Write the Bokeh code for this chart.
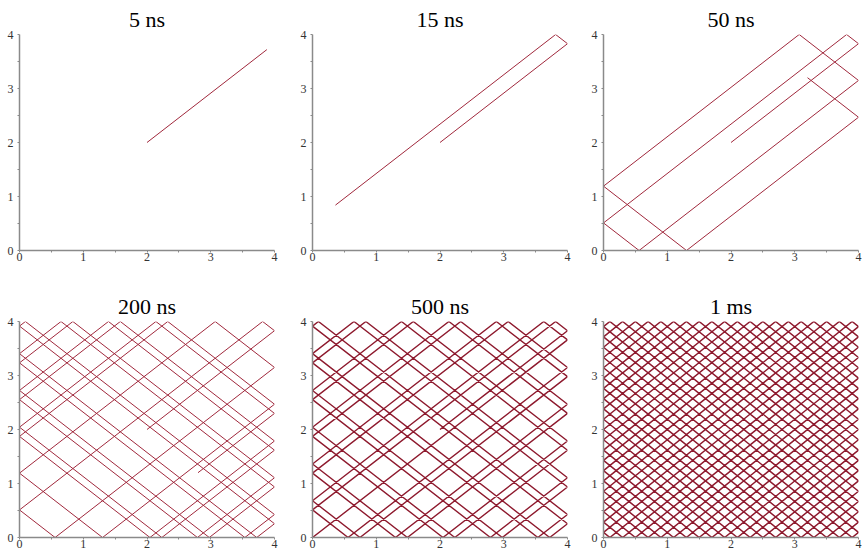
import numpy as np
from bokeh.plotting import figure
from bokeh.layouts import column, row
from bokeh.models import Range1d, FixedTicker
from bokeh.embed import file_html
from bokeh.resources import INLINE

# ---- data ----
BOX = 4.0                      # square box side
START = (2.0, 2.0)             # starting point of the particle
VELOCITY = (0.376, 0.344)      # units per ns (read from bounce points)
DURATIONS_NS = [5, 15, 50, 200, 500]
TITLES = ["5 ns", "15 ns", "50 ns", "200 ns", "500 ns", "1 ms"]
# 1 ms panel: regular lattice, ~21 side bounces and ~20 top bounces per wall
LATTICE_DIR = (21, 20)
LATTICE_PERIOD = 8.0
TICKS = [0, 1, 2, 3, 4]
MINOR_TICKS = [0.5, 1.5, 2.5, 3.5]

LINE_COLORS = ["#A0283C", "#A0283C", "#A0283C", "#A0283C", "#8E1A2E", "#8E1A2E"]
LINE_WIDTHS = [1.0, 1.0, 1.0, 1.0, 1.4, 1.5]
FONT = "serif"


def billiard(x0, y0, vx, vy, T, L=BOX):
    xs, ys = [x0], [y0]
    x, y, t = x0, y0, 0.0
    while t < T - 1e-12:
        tx = ((L - x) / vx if vx > 0 else -x / vx) if vx != 0 else np.inf
        ty = ((L - y) / vy if vy > 0 else -y / vy) if vy != 0 else np.inf
        rem = T - t
        dt = min(tx, ty, rem)
        x += vx * dt
        y += vy * dt
        t += dt
        if dt == tx:
            vx = -vx
            x = L if x > L / 2 else 0.0
        if dt == ty:
            vy = -vy
            y = L if y > L / 2 else 0.0
        xs.append(x)
        ys.append(y)
    return xs, ys


paths = [billiard(START[0], START[1], VELOCITY[0], VELOCITY[1], T) for T in DURATIONS_NS]
paths.append(billiard(START[0], START[1], LATTICE_DIR[0], LATTICE_DIR[1], LATTICE_PERIOD))

FRAME_W = 255
FRAME_H = 216
left_border = 19
right_borders = [19, 17, 4]
top_border = 34
bottom_borders = [37, 16]

figs = []
for i, (xs, ys) in enumerate(paths):
    r, c = divmod(i, 3)
    p = figure(frame_width=FRAME_W, frame_height=FRAME_H,
               x_range=Range1d(0, 4), y_range=Range1d(0, 4),
               output_backend="svg", toolbar_location=None,
               min_border_left=left_border, min_border_right=right_borders[c],
               min_border_top=top_border, min_border_bottom=bottom_borders[r],
               title=TITLES[i])
    p.title.text_font = FONT
    p.title.text_font_size = "22px"
    p.title.text_font_style = "normal"
    p.title.text_color = "black"
    p.title.align = "center"
    p.title.standoff = 6
    p.title.offset = 0
    p.outline_line_color = None
    p.grid.visible = False
    p.background_fill_color = "white"
    p.border_fill_color = "white"
    for ax in (p.xaxis[0], p.yaxis[0]):
        ax.ticker = FixedTicker(ticks=TICKS, minor_ticks=MINOR_TICKS)
        ax.axis_line_color = "#8a8a8a"
        ax.axis_line_width = 1.5
        ax.major_tick_line_color = "#8a8a8a"
        ax.minor_tick_line_color = "#8a8a8a"
        ax.major_tick_in = 0
        ax.minor_tick_in = 0
        ax.major_tick_out = 2
        ax.minor_tick_out = 2
        ax.major_label_text_font = FONT
        ax.major_label_text_font_size = "12px"
        ax.major_label_text_color = "#333333"
    p.xaxis[0].major_label_standoff = 0
    p.yaxis[0].major_label_standoff = 4
    p.line(xs, ys, line_color=LINE_COLORS[i], line_width=LINE_WIDTHS[i])
    figs.append(p)

layout = column(row(*figs[:3]), row(*figs[3:]))
open("out.html", "w").write(file_html(layout, INLINE))
